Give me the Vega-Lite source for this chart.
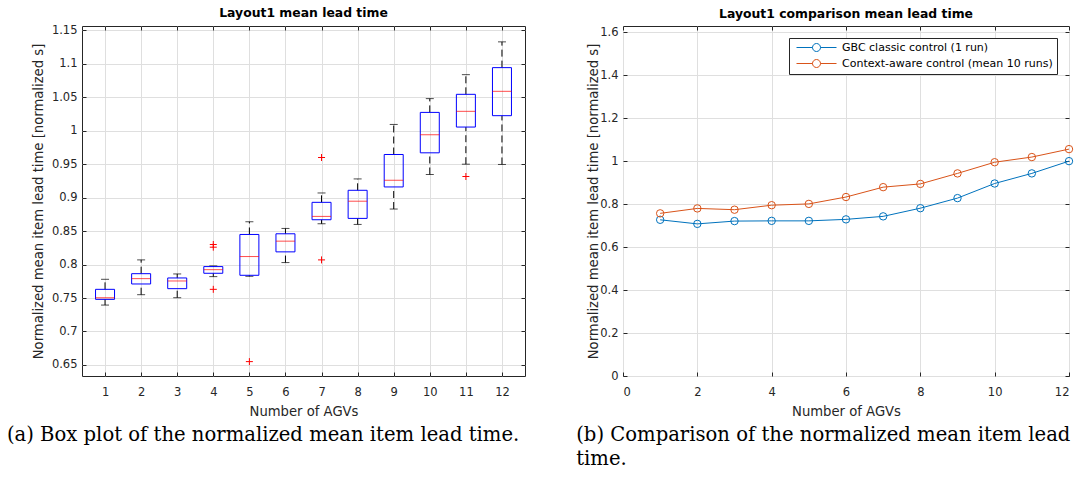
{
  "$schema": "https://vega.github.io/schema/vega-lite/v6.json",
  "padding": {"left": 6, "top": 6, "right": 0, "bottom": 0},
  "background": "white",
  "spacing": 50,
  "config": {
    "font": "DejaVu Sans",
    "view": {"stroke": "#262626", "strokeWidth": 1},
    "axis": {
      "labelFont": "DejaVu Sans",
      "labelFontSize": 11.5,
      "labelColor": "#262626",
      "titleFont": "DejaVu Sans",
      "titleFontSize": 13.2,
      "titleFontWeight": "normal",
      "titleColor": "#262626",
      "tickColor": "#262626",
      "tickSize": -4,
      "domain": false,
      "gridColor": "#dfdfdf",
      "gridWidth": 1
    },
    "axisX": {"labelPadding": 14, "titlePadding": 8},
    "axisY": {"labelPadding": 9, "titlePadding": 6},
    "title": {"font": "DejaVu Sans", "fontSize": 12.4, "fontWeight": "bold", "color": "black", "offset": 5}
  },
  "resolve": {"scale": {"color": "independent"}, "legend": {"color": "independent"}},
  "datasets": {
    "box": [
      {"agv": 1, "wlo": 0.7395, "q1": 0.748, "med": 0.7505, "q3": 0.763, "whi": 0.778},
      {"agv": 2, "wlo": 0.755, "q1": 0.771, "med": 0.779, "q3": 0.7864, "whi": 0.807},
      {"agv": 3, "wlo": 0.7505, "q1": 0.764, "med": 0.7755, "q3": 0.780, "whi": 0.786},
      {"agv": 4, "wlo": 0.782, "q1": 0.787, "med": 0.7924, "q3": 0.797, "whi": 0.798},
      {"agv": 5, "wlo": 0.7825, "q1": 0.784, "med": 0.812, "q3": 0.845, "whi": 0.864},
      {"agv": 6, "wlo": 0.803, "q1": 0.819, "med": 0.835, "q3": 0.846, "whi": 0.854},
      {"agv": 7, "wlo": 0.861, "q1": 0.867, "med": 0.872, "q3": 0.893, "whi": 0.907},
      {"agv": 8, "wlo": 0.860, "q1": 0.869, "med": 0.8947, "q3": 0.911, "whi": 0.928},
      {"agv": 9, "wlo": 0.883, "q1": 0.916, "med": 0.926, "q3": 0.9645, "whi": 1.0094},
      {"agv": 10, "wlo": 0.9346, "q1": 0.967, "med": 0.994, "q3": 1.0274, "whi": 1.048},
      {"agv": 11, "wlo": 0.950, "q1": 1.0055, "med": 1.029, "q3": 1.0544, "whi": 1.0838},
      {"agv": 12, "wlo": 0.9496, "q1": 1.0225, "med": 1.0589, "q3": 1.0943, "whi": 1.1328}
    ],
    "outliers": [
      {"agv": 4, "value": 0.830},
      {"agv": 4, "value": 0.826},
      {"agv": 4, "value": 0.763},
      {"agv": 5, "value": 0.655},
      {"agv": 7, "value": 0.960},
      {"agv": 7, "value": 0.807},
      {"agv": 11, "value": 0.9316}
    ],
    "lines": [
      {"series": "GBC classic control (1 run)", "agv": 1, "value": 0.727},
      {"series": "GBC classic control (1 run)", "agv": 2, "value": 0.708},
      {"series": "GBC classic control (1 run)", "agv": 3, "value": 0.721},
      {"series": "GBC classic control (1 run)", "agv": 4, "value": 0.722},
      {"series": "GBC classic control (1 run)", "agv": 5, "value": 0.722},
      {"series": "GBC classic control (1 run)", "agv": 6, "value": 0.729},
      {"series": "GBC classic control (1 run)", "agv": 7, "value": 0.743},
      {"series": "GBC classic control (1 run)", "agv": 8, "value": 0.781},
      {"series": "GBC classic control (1 run)", "agv": 9, "value": 0.828},
      {"series": "GBC classic control (1 run)", "agv": 10, "value": 0.896},
      {"series": "GBC classic control (1 run)", "agv": 11, "value": 0.943},
      {"series": "GBC classic control (1 run)", "agv": 12, "value": 1.0},
      {"series": "Context-aware control (mean 10 runs)", "agv": 1, "value": 0.757},
      {"series": "Context-aware control (mean 10 runs)", "agv": 2, "value": 0.780},
      {"series": "Context-aware control (mean 10 runs)", "agv": 3, "value": 0.774},
      {"series": "Context-aware control (mean 10 runs)", "agv": 4, "value": 0.795},
      {"series": "Context-aware control (mean 10 runs)", "agv": 5, "value": 0.801},
      {"series": "Context-aware control (mean 10 runs)", "agv": 6, "value": 0.833},
      {"series": "Context-aware control (mean 10 runs)", "agv": 7, "value": 0.879},
      {"series": "Context-aware control (mean 10 runs)", "agv": 8, "value": 0.894},
      {"series": "Context-aware control (mean 10 runs)", "agv": 9, "value": 0.943},
      {"series": "Context-aware control (mean 10 runs)", "agv": 10, "value": 0.995},
      {"series": "Context-aware control (mean 10 runs)", "agv": 11, "value": 1.019},
      {"series": "Context-aware control (mean 10 runs)", "agv": 12, "value": 1.056}
    ]
  },
  "hconcat": [
    {
      "title": {"text": "(a) Box plot of the normalized mean item lead time.", "orient": "bottom", "anchor": "start", "font": "DejaVu Serif", "fontSize": 19.6, "fontWeight": "normal", "color": "black", "offset": 8, "dx": -24},
      "vconcat": [
        {
          "width": 443,
          "height": 350,
          "title": {"text": "Layout1 mean lead time"},
          "layer": [
            {
              "data": {"name": "box"},
              "mark": {"type": "rule", "color": "black", "strokeWidth": 1, "strokeDash": [7, 4]},
              "encoding": {
                "x": {"field": "agv", "type": "quantitative", "scale": {"domain": [0.5, 12.5], "nice": false, "zero": false},
                      "axis": {"orient": "bottom", "values": [1,2,3,4,5,6,7,8,9,10,11,12], "title": "Number of AGVs", "format": "d", "grid": true}},
                "y": {"field": "q3", "type": "quantitative", "scale": {"domain": [0.6335, 1.1565], "nice": false, "zero": false},
                      "axis": {"orient": "left", "values": [0.65,0.7,0.75,0.8,0.85,0.9,0.95,1,1.05,1.1,1.15], "format": ".2~f", "title": "Normalized mean item lead time [normalized s]", "grid": true}},
                "y2": {"field": "whi"}
              }
            },
            {
              "data": {"name": "box"},
              "mark": {"type": "rule", "color": "black", "strokeWidth": 1, "strokeDash": [7, 4]},
              "encoding": {
                "x": {"field": "agv", "type": "quantitative",
                      "axis": {"orient": "top", "values": [1,2,3,4,5,6,7,8,9,10,11,12], "labels": false, "title": null, "grid": false}},
                "y": {"field": "wlo", "type": "quantitative",
                      "axis": {"orient": "right", "values": [0.65,0.7,0.75,0.8,0.85,0.9,0.95,1,1.05,1.1,1.15], "labels": false, "title": null, "grid": false}},
                "y2": {"field": "q1"}
              }
            },
            {
              "data": {"name": "box"},
              "mark": {"type": "tick", "orient": "horizontal", "color": "black", "size": 8, "thickness": 1},
              "encoding": {
                "x": {"field": "agv", "type": "quantitative", "axis": null},
                "y": {"field": "whi", "type": "quantitative", "axis": null}
              }
            },
            {
              "data": {"name": "box"},
              "mark": {"type": "tick", "orient": "horizontal", "color": "black", "size": 8, "thickness": 1},
              "encoding": {
                "x": {"field": "agv", "type": "quantitative", "axis": null},
                "y": {"field": "wlo", "type": "quantitative", "axis": null}
              }
            },
            {
              "data": {"name": "box"},
              "mark": {"type": "bar", "filled": false, "stroke": "#0000ff", "strokeWidth": 1, "width": 19},
              "encoding": {
                "x": {"field": "agv", "type": "quantitative", "axis": null},
                "y": {"field": "q1", "type": "quantitative", "axis": null},
                "y2": {"field": "q3"}
              }
            },
            {
              "data": {"name": "box"},
              "mark": {"type": "tick", "orient": "horizontal", "color": "#ff0000", "size": 19, "thickness": 1},
              "encoding": {
                "x": {"field": "agv", "type": "quantitative", "axis": null},
                "y": {"field": "med", "type": "quantitative", "axis": null}
              }
            },
            {
              "data": {"name": "outliers"},
              "mark": {"type": "point", "shape": "M-1,0L1,0M0,-1L0,1", "filled": false, "stroke": "#ff0000", "strokeWidth": 1, "size": 49, "opacity": 1},
              "encoding": {
                "x": {"field": "agv", "type": "quantitative", "axis": null},
                "y": {"field": "value", "type": "quantitative", "axis": null}
              }
            }
          ],
          "resolve": {"axis": {"x": "independent", "y": "independent"}}
        }
      ]
    },
    {
      "title": {"text": ["(b) Comparison of the normalized mean item lead", "time."], "orient": "bottom", "anchor": "start", "font": "DejaVu Serif", "fontSize": 19.6, "fontWeight": "normal", "color": "black", "offset": 8, "lineHeight": 24, "dx": -10},
      "resolve": {"scale": {"color": "independent"}, "legend": {"color": "independent"}},
      "vconcat": [
        {
          "width": 446,
          "height": 350,
          "title": {"text": "Layout1 comparison mean lead time"},
          "data": {"name": "lines"},
          "layer": [
            {
              "mark": {"type": "line", "strokeWidth": 1},
              "encoding": {
                "x": {"field": "agv", "type": "quantitative", "scale": {"domain": [0, 12], "nice": false, "zero": false},
                      "axis": {"orient": "bottom", "values": [0,2,4,6,8,10,12], "title": "Number of AGVs", "format": "d", "grid": true}},
                "y": {"field": "value", "type": "quantitative", "scale": {"domain": [0, 1.629], "nice": false, "zero": false},
                      "axis": {"orient": "left", "values": [0,0.2,0.4,0.6,0.8,1,1.2,1.4,1.6], "format": ".1~f", "title": "Normalized mean item lead time [normalized s]", "grid": true, "titlePadding": -1}},
                "color": {"field": "series", "type": "nominal",
                          "scale": {"domain": ["GBC classic control (1 run)", "Context-aware control (mean 10 runs)"], "range": ["#0072BD", "#D95319"]},
                          "legend": {"orient": "top-right", "offset": 12, "title": null, "strokeColor": "#262626", "fillColor": "white", "padding": 4,
                                     "labelFont": "DejaVu Sans", "labelFontSize": 11, "labelColor": "black", "labelLimit": 400, "rowPadding": 3,
                                     "symbolType": "M-5,0L-1,0M1,0L5,0M1,0A1,1,0,1,1,-1,0A1,1,0,1,1,1,0", "symbolSize": 64, "symbolStrokeWidth": 1,
                                     "symbolFillColor": "transparent", "symbolOffset": 18, "labelOffset": 20}}
              }
            },
            {
              "mark": {"type": "point", "filled": false, "size": 55, "strokeWidth": 1, "opacity": 1},
              "encoding": {
                "x": {"field": "agv", "type": "quantitative",
                      "axis": {"orient": "top", "values": [0,2,4,6,8,10,12], "labels": false, "title": null, "grid": false}},
                "y": {"field": "value", "type": "quantitative",
                      "axis": {"orient": "right", "values": [0,0.2,0.4,0.6,0.8,1,1.2,1.4,1.6], "labels": false, "title": null, "grid": false}},
                "color": {"field": "series", "type": "nominal"}
              }
            }
          ],
          "resolve": {"axis": {"x": "independent", "y": "independent"}}
        }
      ]
    }
  ]
}
